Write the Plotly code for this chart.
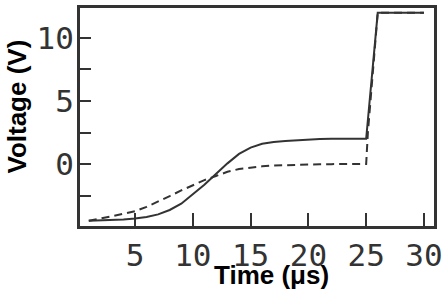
import plotly.graph_objects as go

time_solid = [1, 2, 3, 4, 5, 6, 7, 8, 9, 10, 11, 12, 13, 14, 15, 16, 17, 18, 19, 20,
              21, 22, 23, 24, 25, 26, 27, 28, 29, 30]
volt_solid = [-4.5, -4.48, -4.45, -4.4, -4.33, -4.2, -4.0, -3.65, -3.15, -2.4, -1.65, -0.8,
              0.05, 0.8, 1.3, 1.6, 1.75, 1.83, 1.9, 1.95, 1.98, 2.0, 2.0, 2.0, 2.0,
              12.0, 12.0, 12.0, 12.0, 12.0]

time_dash = [1, 2, 3, 4, 5, 6, 7, 8, 9, 10, 11, 12, 13, 14, 15, 16, 17, 18, 19, 20,
             21, 22, 23, 24, 25, 25.15, 26, 27, 28, 29, 30]
volt_dash = [-4.5, -4.35, -4.15, -3.95, -3.75, -3.4, -3.0, -2.55, -2.1, -1.67, -1.28, -0.95,
             -0.62, -0.4, -0.27, -0.18, -0.12, -0.08, -0.05, -0.03, -0.02, -0.01, 0.0, 0.0, 0.0,
             2.5, 12.0, 12.0, 12.0, 12.0, 12.0]

x_ticks = [5, 10, 15, 20, 25, 30]
y_ticks = [-2.5, 0, 2.5, 5, 7.5, 10]
y_ticktext = ["", "0", "", "5", "", "10"]
x_title = "Time (μs)"
y_title = "Voltage (V)"

ink = "#333333"
title_font = dict(family="Liberation Sans", size=26, color="black", weight="bold")

fig = go.Figure()
fig.add_trace(go.Scatter(x=time_dash, y=volt_dash, mode="lines",
                         line=dict(color=ink, width=2, dash="8px,5px"), showlegend=False))
fig.add_trace(go.Scatter(x=time_solid, y=volt_solid, mode="lines",
                         line=dict(color=ink, width=2), showlegend=False))

fig.update_layout(
    width=446, height=295,
    margin=dict(l=80, r=12, t=8, b=69, autoexpand=False),
    paper_bgcolor="white", plot_bgcolor="white",
    xaxis=dict(range=[0.24, 30.87], tickvals=x_ticks, ticks="inside", ticklen=13,
               tickwidth=2, tickcolor=ink, showgrid=False, zeroline=False,
               showline=True, linecolor=ink, linewidth=3, mirror=True, automargin=False,
               tickfont=dict(family="DejaVu Sans Mono", size=31, color=ink),
               ticklabelstandoff=0),
    yaxis=dict(range=[-4.92, 12.38], tickvals=y_ticks, ticktext=y_ticktext,
               ticks="inside", ticklen=11, tickwidth=2, tickcolor=ink,
               showgrid=False, zeroline=False, automargin=False,
               showline=True, linecolor=ink, linewidth=3, mirror=True,
               tickfont=dict(family="DejaVu Sans Mono", size=31, color=ink),
               ticklabelstandoff=-3),
    annotations=[
        dict(text=x_title, xref="paper", yref="paper", x=0.542, y=-0.225,
             xanchor="center", yanchor="middle", showarrow=False, font=title_font),
        dict(text=y_title, xref="paper", yref="paper", x=-0.178, y=0.548,
             xanchor="center", yanchor="middle", textangle=-90, showarrow=False,
             font=title_font),
    ],
)

fig.write_html("out.html", config={"displayModeBar": False},
               post_script="document.body.style.margin='0';")
